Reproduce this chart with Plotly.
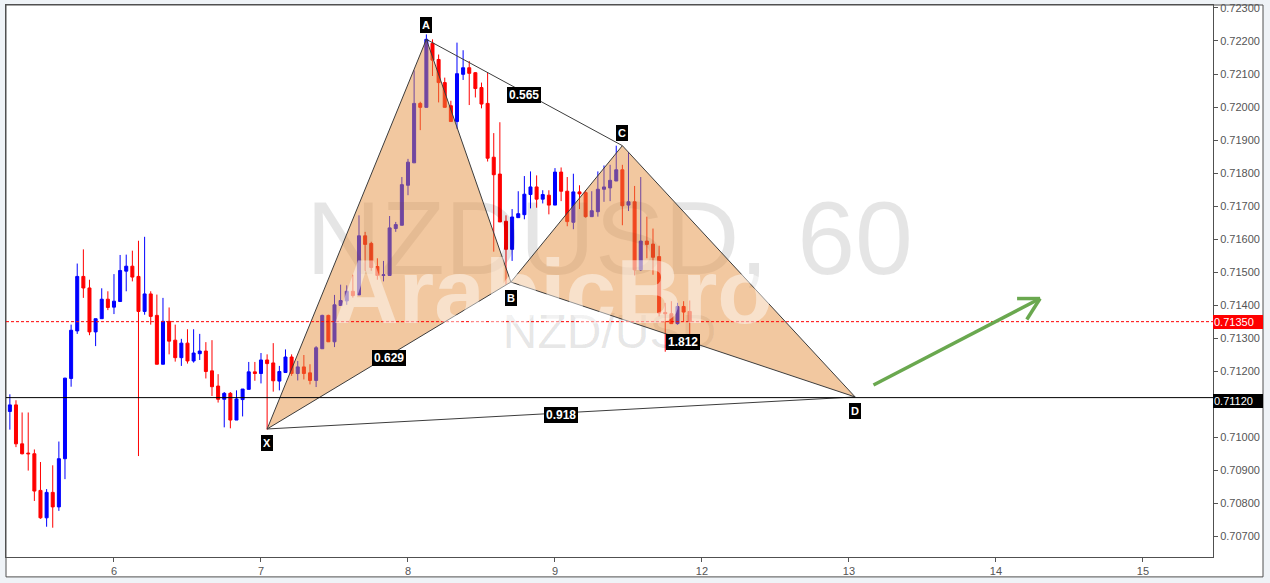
import plotly.graph_objects as go

# ---------------- data (hourly candles, x = bar index, day "6" starts at 0) ----------------
bar_index = list(range(-17, 95))

opens = [0.71078, 0.71098, 0.70980, 0.70952, 0.70950, 0.70839, 0.70756, 0.70833, 0.70789, 0.70935,
         0.71178, 0.71322, 0.71487, 0.71452, 0.71319, 0.71359, 0.71418, 0.71394, 0.71411, 0.71503,
         0.71518, 0.71487, 0.71381, 0.71434, 0.71369, 0.71221, 0.71351, 0.71294, 0.71241, 0.71285,
         0.71231, 0.71253, 0.71261, 0.71201, 0.71155, 0.71115, 0.71133, 0.71052, 0.71114, 0.71145,
         0.71198, 0.71193, 0.71234, 0.71225, 0.71170, 0.71196, 0.71243, 0.71193, 0.71213, 0.71195,
         0.71172, 0.71268, 0.71369, 0.71289, 0.71399, 0.71413, 0.71442, 0.71431, 0.71610, 0.71587,
         0.71517, 0.71490, 0.71490, 0.71632, 0.71642, 0.71763, 0.71831, 0.72011, 0.71999, 0.72193,
         0.72144, 0.72074, 0.72004, 0.71956, 0.72099, 0.72119, 0.72104, 0.72059, 0.72011, 0.71848,
         0.71797, 0.71654, 0.71569, 0.71665, 0.71674, 0.71735, 0.71758, 0.71721, 0.71733, 0.71703,
         0.71803, 0.71745, 0.71651, 0.71743, 0.71741, 0.71668, 0.71683, 0.71751, 0.71755, 0.71776,
         0.71810, 0.71703, 0.71713, 0.71507, 0.71594, 0.71585, 0.71547, 0.71378, 0.71374, 0.71344,
         0.71396, 0.71381]
highs = [0.71130, 0.71112, 0.71075, 0.71075, 0.70963, 0.70925, 0.70843, 0.70915, 0.70987, 0.71180,
         0.71341, 0.71526, 0.71569, 0.71477, 0.71359, 0.71451, 0.71442, 0.71494, 0.71552, 0.71553,
         0.71565, 0.71595, 0.71607, 0.71442, 0.71432, 0.71422, 0.71393, 0.71341, 0.71298, 0.71327,
         0.71327, 0.71313, 0.71288, 0.71294, 0.71191, 0.71137, 0.71137, 0.71142, 0.71146, 0.71228,
         0.71228, 0.71255, 0.71251, 0.71285, 0.71216, 0.71266, 0.71251, 0.71231, 0.71249, 0.71221,
         0.71276, 0.71371, 0.71371, 0.71431, 0.71462, 0.71460, 0.71492, 0.71672, 0.71622, 0.71592,
         0.71542, 0.71534, 0.71670, 0.71652, 0.71788, 0.71843, 0.72111, 0.72016, 0.72220, 0.72205,
         0.72159, 0.72089, 0.72019, 0.72195, 0.72172, 0.72139, 0.72106, 0.72074, 0.72104, 0.71921,
         0.71954, 0.71672, 0.71691, 0.71745, 0.71791, 0.71805, 0.71793, 0.71748, 0.71748, 0.71815,
         0.71817, 0.71788, 0.71798, 0.71763, 0.71748, 0.71745, 0.71805, 0.71823, 0.71825, 0.71883,
         0.71825, 0.71863, 0.71761, 0.71788, 0.71668, 0.71632, 0.71580, 0.71407, 0.71412, 0.71407,
         0.71412, 0.71414]
lows = [0.71023, 0.70970, 0.70948, 0.70899, 0.70807, 0.70753, 0.70729, 0.70726, 0.70777, 0.70873,
        0.71153, 0.71313, 0.71422, 0.71309, 0.71276, 0.71359, 0.71385, 0.71373, 0.71411, 0.71442,
        0.71472, 0.70943, 0.71371, 0.71341, 0.71221, 0.71221, 0.71251, 0.71229, 0.71216, 0.71223,
        0.71226, 0.71234, 0.71178, 0.71125, 0.71105, 0.71030, 0.71027, 0.71052, 0.71063, 0.71145,
        0.71171, 0.71163, 0.71023, 0.71138, 0.71142, 0.71196, 0.71186, 0.71172, 0.71175, 0.71160,
        0.71152, 0.71268, 0.71289, 0.71273, 0.71399, 0.71401, 0.71423, 0.71431, 0.71504, 0.71504,
        0.71477, 0.71472, 0.71490, 0.71622, 0.71642, 0.71733, 0.71831, 0.71930, 0.71999, 0.72094,
        0.72014, 0.71999, 0.71956, 0.71934, 0.72082, 0.72006, 0.72029, 0.71996, 0.71835, 0.71562,
        0.71652, 0.71462, 0.71534, 0.71665, 0.71660, 0.71693, 0.71695, 0.71708, 0.71675, 0.71703,
        0.71715, 0.71639, 0.71630, 0.71691, 0.71665, 0.71668, 0.71668, 0.71713, 0.71715, 0.71776,
        0.71642, 0.71685, 0.71490, 0.71504, 0.71542, 0.71492, 0.71366, 0.71259, 0.71343, 0.71341,
        0.71351, 0.71311]
closes = [0.71098, 0.70980, 0.70950, 0.70950, 0.70837, 0.70756, 0.70833, 0.70789, 0.70935, 0.71179,
          0.71324, 0.71487, 0.71452, 0.71319, 0.71359, 0.71418, 0.71393, 0.71412, 0.71505, 0.71518,
          0.71485, 0.71381, 0.71434, 0.71366, 0.71221, 0.71351, 0.71291, 0.71241, 0.71285, 0.71231,
          0.71255, 0.71261, 0.71199, 0.71153, 0.71115, 0.71133, 0.71052, 0.71116, 0.71146, 0.71198,
          0.71193, 0.71234, 0.71223, 0.71171, 0.71199, 0.71243, 0.71193, 0.71213, 0.71193, 0.71172,
          0.71271, 0.71369, 0.71289, 0.71401, 0.71414, 0.71442, 0.71429, 0.71610, 0.71584, 0.71514,
          0.71490, 0.71492, 0.71634, 0.71644, 0.71765, 0.71833, 0.72011, 0.71999, 0.72205, 0.72142,
          0.72074, 0.71999, 0.71956, 0.72101, 0.72119, 0.72102, 0.72056, 0.72009, 0.71845, 0.71795,
          0.71652, 0.71569, 0.71667, 0.71677, 0.71736, 0.71758, 0.71721, 0.71735, 0.71703, 0.71803,
          0.71745, 0.71653, 0.71743, 0.71737, 0.71668, 0.71686, 0.71751, 0.71758, 0.71778, 0.71810,
          0.71701, 0.71713, 0.71507, 0.71594, 0.71584, 0.71545, 0.71376, 0.71374, 0.71344, 0.71396,
          0.71379, 0.71350]

day_tick_index = [0, 24, 48, 72, 96, 120, 144, 168]
day_tick_labels = ["6", "7", "8", "9", "12", "13", "14", "15"]

price_ticks = [0.707, 0.708, 0.709, 0.710, 0.711, 0.712, 0.713, 0.714, 0.715,
               0.716, 0.717, 0.718, 0.719, 0.720, 0.721, 0.722, 0.723]

# XABCD harmonic pattern points
pattern_names = ["X", "A", "B", "C", "D"]
pattern_x = [25, 51, 64.8, 83, 121]
pattern_y = [0.71025, 0.72205, 0.71470, 0.71883, 0.71122]
ratio_labels = {"XB": "0.629", "AC": "0.565", "BD": "1.812", "XD": "0.918"}

last_price = 0.71350
level_price = 0.71120

arrow_tail = (124.0, 0.71158)
arrow_tip = (151.2, 0.71420)

# ---------------- layout geometry ----------------
W, H = 1270, 583
ML, MR, MT, MB = 6, 57, 2, 26
plot_w = W - ML - MR
plot_h = H - MT - MB
x_range = [-17.63, 179.43]
y_range = [0.706373, 0.723090]
px_x = plot_w / (x_range[1] - x_range[0])
px_y = plot_h / (y_range[1] - y_range[0])

FONT = "Liberation Sans, Arial, sans-serif"
FILL = "rgba(228,143,61,0.49)"
EDGE = "#3c3c3c"

fig = go.Figure()

# watermark (drawn beneath candles)
fig.add_trace(go.Scatter(
    x=[x_range[0] + 0.5 * (x_range[1] - x_range[0])],
    y=[y_range[1] - (246 - MT) / px_y],
    mode="text", text=["NZDUSD, 60"],
    textfont=dict(size=104, color="rgba(0,0,0,0.10)", family=FONT),
    hoverinfo="skip", showlegend=False))
fig.add_trace(go.Scatter(
    x=[x_range[0] + 0.5 * (x_range[1] - x_range[0])],
    y=[y_range[1] - (335 - MT) / px_y],
    mode="text", text=["NZD/USD"],
    textfont=dict(size=48, color="rgba(0,0,0,0.10)", family=FONT),
    hoverinfo="skip", showlegend=False))

fig.add_trace(go.Candlestick(
    x=bar_index, open=opens, high=highs, low=lows, close=closes,
    increasing=dict(line=dict(color="#0000ff", width=1), fillcolor="#0000ff"),
    decreasing=dict(line=dict(color="#ff0000", width=1), fillcolor="#ff0000"),
    whiskerwidth=0, hoverinfo="skip", showlegend=False))

# pattern triangles
P = dict(zip(pattern_names, zip(pattern_x, pattern_y)))
for tri in (("X", "A", "B"), ("B", "C", "D")):
    xs = [P[n][0] for n in tri] + [P[tri[0]][0]]
    ys = [P[n][1] for n in tri] + [P[tri[0]][1]]
    fig.add_trace(go.Scatter(x=xs, y=ys, mode="lines", fill="toself", fillcolor=FILL,
                             line=dict(color=EDGE, width=1), hoverinfo="skip", showlegend=False))
for a, b in (("A", "C"), ("X", "D")):
    fig.add_trace(go.Scatter(x=[P[a][0], P[b][0]], y=[P[a][1], P[b][1]], mode="lines",
                             line=dict(color=EDGE, width=1), hoverinfo="skip", showlegend=False))

annotations = []
# point labels
label_shift = {"X": -14, "A": 14, "B": -16, "C": 13, "D": -14}
for n in pattern_names:
    annotations.append(dict(x=P[n][0], y=P[n][1], xref="x", yref="y", text="<b>%s</b>" % n,
                            showarrow=False, yshift=label_shift[n],
                            font=dict(color="white", size=11, family=FONT),
                            bgcolor="#000000", bordercolor="#000000", borderwidth=1, borderpad=1,
                            height=12))
# ratio labels at leg midpoints
for key, txt in ratio_labels.items():
    a, b = P[key[0]], P[key[1]]
    annotations.append(dict(x=(a[0] + b[0]) / 2, y=(a[1] + b[1]) / 2, xref="x", yref="y",
                            text="<b>%s</b>" % txt, showarrow=False, yshift=-2.5,
                            font=dict(color="white", size=12, family=FONT),
                            bgcolor="#000000", bordercolor="#000000", borderwidth=1, borderpad=1,
                            height=12))

# white broker overlay
annotations.append(dict(x=(553 - ML) / plot_w, y=(MT + plot_h - 290) / plot_h, xref="paper", yref="paper",
                        text="<b>ArabicBro</b>", showarrow=False,
                        font=dict(size=91, color="rgba(255,255,255,0.45)", family=FONT)))

# price labels on axis
for price, bg, shift in ((last_price, "#ff0000", 0), (level_price, "#000000", -3)):
    annotations.append(dict(x=1, y=price, xref="paper", yref="y", xanchor="left", yshift=shift,
                            text="%.5f" % price, showarrow=False, align="left",
                            font=dict(color="white", size=11, family=FONT),
                            bgcolor=bg, bordercolor=bg, borderwidth=0, borderpad=1,
                            width=48, height=12))

shapes = [
    # outer chart frame (includes axis strips)
    dict(type="rect", xref="paper", yref="paper", x0=0, x1=(1263 - ML) / plot_w,
         y0=-(577 - MT - plot_h) / plot_h, y1=1, fillcolor="white",
         line=dict(color="#505050", width=1), layer="below"),
    dict(type="line", xref="paper", yref="y", x0=0, x1=1, y0=last_price, y1=last_price,
         line=dict(color="#ff0000", width=1, dash="3px,2px")),
    dict(type="line", xref="paper", yref="y", x0=0, x1=1, y0=level_price, y1=level_price,
         line=dict(color="#000000", width=1)),
    # green projection arrow
    dict(type="line", xref="x", yref="y", x0=arrow_tail[0], y0=arrow_tail[1],
         x1=arrow_tip[0], y1=arrow_tip[1], line=dict(color="#6aa84f", width=3.5)),
    dict(type="line", xref="x", yref="y", x0=arrow_tip[0] - 23 / px_x, y0=arrow_tip[1],
         x1=arrow_tip[0], y1=arrow_tip[1], line=dict(color="#6aa84f", width=3.5)),
    dict(type="line", xref="x", yref="y", x0=arrow_tip[0] - 13.3 / px_x, y0=arrow_tip[1] - 21 / px_y,
         x1=arrow_tip[0], y1=arrow_tip[1], line=dict(color="#6aa84f", width=3.5)),
]

fig.update_layout(
    width=W, height=H, margin=dict(l=ML, r=MR, t=MT, b=MB, pad=0),
    paper_bgcolor="#eff3f7", plot_bgcolor="white",
    font=dict(family=FONT, size=11, color="#555555"),
    showlegend=False, annotations=annotations, shapes=shapes,
    xaxis=dict(range=x_range, rangeslider=dict(visible=False), showgrid=False, zeroline=False,
               tickmode="array", tickvals=day_tick_index, ticktext=day_tick_labels,
               ticks="outside", ticklen=4, tickcolor="#555555", tickfont=dict(size=11, color="#555555"),
               showline=True, linecolor="#505050", linewidth=1, mirror=True, fixedrange=True),
    yaxis=dict(range=y_range, side="right", showgrid=False, zeroline=False,
               tickmode="array", tickvals=price_ticks, ticktext=["%.5f" % v for v in price_ticks],
               ticks="outside", ticklen=4, tickcolor="#555555", tickfont=dict(size=11, color="#555555"),
               ticklabeloverflow="allow",
               showline=True, linecolor="#505050", linewidth=1, mirror=True, fixedrange=True),
)

fig.write_html("out.html", config={"displayModeBar": False},
               post_script="document.body.style.margin='0px';document.body.style.overflow='hidden';")
